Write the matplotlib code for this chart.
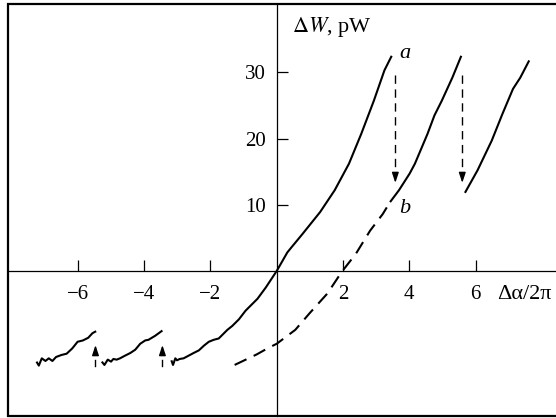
import numpy as np
import matplotlib
matplotlib.use("Agg")
import matplotlib.pyplot as plt

plt.rcParams['font.family'] = ['Liberation Serif', 'DejaVu Serif']
plt.rcParams['mathtext.fontset'] = 'stix'

# jump-like branches on the left (negative detuning)
left1_x = [-7.25, -7.18, -7.09, -6.98, -6.88, -6.77, -6.66, -6.50, -6.34, -6.17,
           -6.01, -5.85, -5.69, -5.56, -5.45]
left1_y = [-13.7, -14.3, -13.2, -13.6, -13.2, -13.6, -13.0, -12.7, -12.5, -11.7,
           -10.7, -10.5, -10.1, -9.4, -9.1]

left2_x = [-5.28, -5.20, -5.10, -5.00, -4.93, -4.83, -4.73, -4.58, -4.42, -4.27,
           -4.12, -3.97, -3.87, -3.67, -3.45]
left2_y = [-13.7, -14.2, -13.4, -13.7, -13.3, -13.4, -13.2, -12.8, -12.4, -11.9,
           -11.0, -10.5, -10.4, -9.8, -9.0]

# main branch a, through the origin
a_x = [-3.18, -3.13, -3.06, -3.01, -2.93, -2.81, -2.66, -2.51, -2.35, -2.20,
       -2.05, -1.90, -1.75, -1.65, -1.49, -1.34, -1.14, -0.94, -0.58, -0.33,
       0.0, 0.32, 0.45, 0.78, 1.31, 1.75, 2.18, 2.55, 2.93, 3.25, 3.47]
a_y = [-13.5, -14.2, -13.2, -13.5, -13.3, -13.2, -12.8, -12.4, -12.0, -11.3,
       -10.7, -10.4, -10.2, -9.7, -8.9, -8.3, -7.3, -6.0, -4.2, -2.5,
       0.0, 2.8, 3.6, 5.6, 8.9, 12.2, 16.2, 20.7, 25.7, 30.3, 32.5]

# branch b: dashed part then solid part
b_dash_x = [-1.27, -0.60, -0.28, 0.0, 0.56, 0.99, 1.53, 1.96, 2.39, 2.82, 3.20, 3.42]
b_dash_y = [-14.2, -12.6, -11.7, -11.0, -8.9, -6.4, -3.4, -0.15, 2.6, 6.1, 8.6, 10.4]
b_x = [3.42, 3.69, 4.01, 4.17, 4.55, 4.76, 4.98, 5.30, 5.57]
b_y = [10.4, 12.2, 14.7, 16.2, 20.7, 23.5, 25.7, 29.2, 32.5]

# third branch
c_x = [5.68, 6.06, 6.49, 6.81, 7.13, 7.35, 7.62]
c_y = [11.8, 15.2, 19.7, 23.7, 27.5, 29.2, 31.8]

# jumps
down_x = [3.58, 5.60]
down_top, down_tip = 29.6, 13.3
up_x = [-5.47, -3.45]
up_bottom, up_tip = -14.3, -11.2

fig = plt.figure(figsize=(5.56, 4.18), dpi=100)
ax = fig.add_axes([0.0144, 0.005, 1.0, 0.985])
ax.set_xlim(-8.11, 8.67)
ax.set_ylim(-21.9, 40.3)

for s in ['top', 'right']:
    ax.spines[s].set_visible(False)
ax.spines['left'].set_position(('data', 0))
ax.spines['bottom'].set_position(('data', 0))
ax.spines['left'].set_linewidth(0.9)
ax.spines['bottom'].set_linewidth(0.9)
ax.patch.set_edgecolor('black')
ax.patch.set_linewidth(1.6)

ax.set_xticks([-6, -4, -2, 2, 4, 6])
ax.set_yticks([10, 20, 30])
ax.tick_params(axis='both', direction='in', length=8, width=0.9, labelsize=15)
ax.tick_params(axis='x', pad=10)
ax.tick_params(axis='y', pad=8)

lw = 1.5
for xs, ys in [(left1_x, left1_y), (left2_x, left2_y), (a_x, a_y), (b_x, b_y), (c_x, c_y)]:
    ax.plot(xs, ys, color='black', lw=lw, solid_capstyle='butt')
ax.plot(b_dash_x, b_dash_y, color='black', lw=lw, dashes=(6.3, 3.8))

head = dict(arrowstyle='-|>,head_length=0.6,head_width=0.2', color='black', lw=1.0,
            shrinkA=0, shrinkB=0)
for x in down_x:
    ax.plot([x, x], [down_top, down_tip + 1.3], color='black', lw=1.0, dashes=(6, 4))
    ax.annotate('', xy=(x, down_tip), xytext=(x, down_tip + 1.4), arrowprops=head)
for x in up_x:
    ax.plot([x, x], [up_bottom, up_bottom + 0.9], color='black', lw=1.0)
    ax.annotate('', xy=(x, up_tip), xytext=(x, up_tip - 1.4), arrowprops=head)

ax.text(0.45, 36.9, r'$\Delta W$, pW', fontsize=16, va='center', ha='left')
ax.text(6.64, -3.6, 'Δα/2π', fontsize=16, va='center', ha='left')
ax.text(3.7, 32.8, 'a', fontsize=16, style='italic', va='center', ha='left')
ax.text(3.7, 9.4, 'b', fontsize=16, style='italic', va='center', ha='left')

fig.savefig('out.png', dpi=100)
